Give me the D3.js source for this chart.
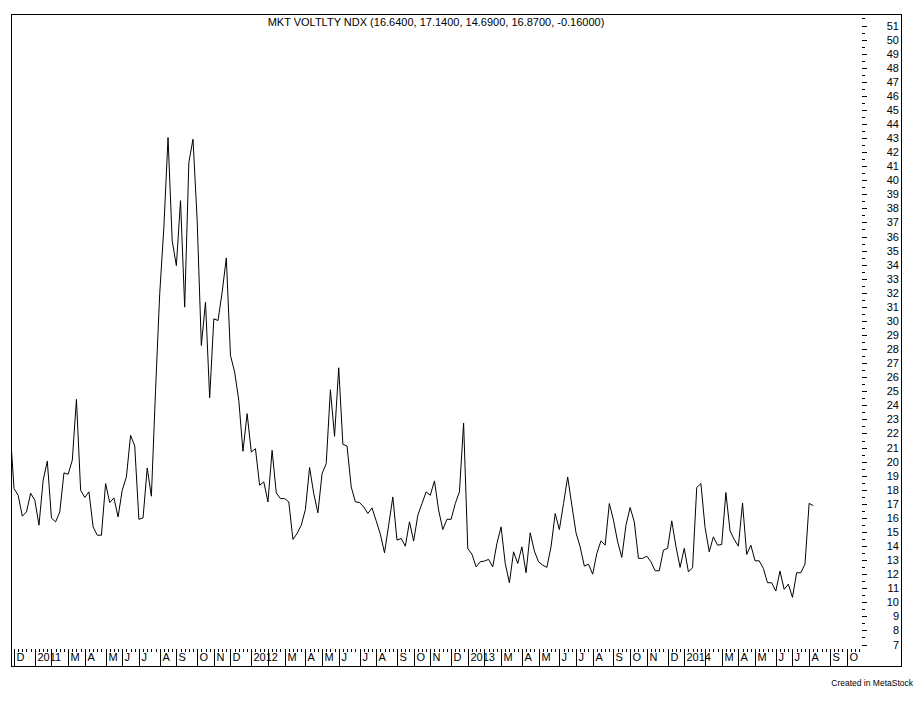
<!DOCTYPE html>
<html lang="en">
<head>
<meta charset="UTF-8">
<title>MKT VOLTLTY NDX</title>
<script src="https://cdn.jsdelivr.net/npm/d3@7"></script>
<style>
  html, body { margin: 0; padding: 0; background: #fff; }
  svg { display: block; font-family: "Liberation Sans", Arial, sans-serif; }
</style>
</head>
<body>
<div id="chart"></div>
<script>
// weekly closes, first week ending 26 Nov 2010
const startDate = new Date(2010, 10, 26);
const closes = [
  22.6, 18.09, 17.6, 16.12, 16.43, 17.75, 17.26, 15.48, 18.67, 20.04,
  15.98, 15.72, 16.43, 19.2, 19.1, 20.1, 24.42, 17.97, 17.45, 17.85,
  15.36, 14.77, 14.77, 18.44, 17.09, 17.42, 16.07, 17.97, 18.91, 21.87,
  21.11, 15.9, 16.0, 19.55, 17.54, 25.06, 31.93, 36.65, 43.04, 35.7,
  33.93, 38.55, 30.98, 41.27, 42.92, 37.13, 28.26, 31.33, 24.54, 30.15,
  30.03, 32.04, 34.48, 27.55, 26.36, 24.35, 20.73, 23.41, 20.68, 20.92,
  18.32, 18.56, 17.14, 20.8, 17.78, 17.37, 17.37, 17.14, 14.47, 14.89,
  15.48, 16.6, 19.58, 17.73, 16.36, 19.15, 19.86, 25.11, 21.8, 26.67,
  21.23, 21.11, 18.2, 17.14, 17.09, 16.78, 16.31, 16.71, 15.79, 14.84,
  13.52, 15.48, 17.49, 14.42, 14.54, 13.99, 15.72, 14.35, 16.19, 17.02,
  17.85, 17.61, 18.63, 16.55, 15.17, 15.9, 15.9, 17.02, 17.85, 22.74,
  13.83, 13.42, 12.52, 12.88, 12.93, 13.05, 12.52, 14.18, 15.36, 12.76,
  11.39, 13.59, 12.76, 13.94, 12.1, 14.94, 13.64, 12.88, 12.64, 12.48,
  13.94, 16.31, 15.17, 17.02, 18.91, 16.9, 14.94, 13.94, 12.57, 12.71,
  12.0, 13.47, 14.37, 14.06, 17.02, 15.84, 14.3, 13.19, 15.48, 16.74,
  15.72, 13.12, 13.12, 13.28, 12.88, 12.24, 12.24, 13.71, 13.83, 15.79,
  13.99, 12.48, 13.83, 12.17, 12.45, 18.16, 18.44, 15.32, 13.59, 14.65,
  14.06, 14.11, 17.8, 15.08, 14.47, 13.99, 17.06, 13.4, 14.06, 12.95,
  12.95, 12.41, 11.39, 11.39, 10.8, 12.22, 10.92, 11.29, 10.35, 12.1,
  12.1, 12.71, 17.03, 16.87
];
const weekCount = 205;   // weeks shown on the axis, incl. empty ones at the right
const monthLetters = ["", "", "M", "A", "M", "J", "J", "A", "S", "O", "N", "D"];
const yTicks = d3.range(7, 52);
const yMinorTicks = d3.range(7.5, 52, 1);
const title = "MKT VOLTLTY NDX (16.6400, 17.1400, 14.6900, 16.8700, -0.16000)";

var width = 921, height = 701,
    frame = { left: 11.5, top: 14.5, right: 901.5, bottom: 666.5 };

var svg = d3.select("#chart").append("svg")
    .attr("width", width)
    .attr("height", height);

svg.append("rect").attr("width", width).attr("height", height).attr("fill", "#fff");

var x = d3.scaleLinear().domain([0, 204]).range([9.84, 9.84 + 4.163 * 204]),
    y = d3.scaleLinear().domain([7, 51]).range([644.5, 25.5]);

var weeks = d3.range(weekCount).map(i => d3.timeDay.offset(startDate, 7 * i));

svg.append("clipPath").attr("id", "plot")
  .append("rect")
    .attr("x", frame.left).attr("y", frame.top)
    .attr("width", frame.right - frame.left).attr("height", frame.bottom - frame.top);

// frame
svg.append("rect")
    .attr("x", frame.left).attr("y", frame.top)
    .attr("width", frame.right - frame.left).attr("height", frame.bottom - frame.top)
    .attr("fill", "none").attr("stroke", "#000").attr("stroke-width", 1);

// title
svg.append("text")
    .attr("x", 436).attr("y", 26)
    .attr("text-anchor", "middle")
    .attr("font-size", 11)
    .text(title);

// price line
var line = d3.line()
    .x((d, i) => x(i))
    .y(d => y(d));

svg.append("path")
    .datum(closes)
    .attr("clip-path", "url(#plot)")
    .attr("fill", "none")
    .attr("stroke", "#000")
    .attr("stroke-width", 1)
    .attr("d", line);

// right axis
var ya = svg.append("g");
ya.selectAll("line.major").data(yTicks).enter().append("line")
    .attr("class", "major")
    .attr("x1", 862).attr("x2", 867)
    .attr("y1", d => Math.round(y(d)) + 0.5).attr("y2", d => Math.round(y(d)) + 0.5)
    .attr("stroke", "#000");
ya.selectAll("line.minor").data(yMinorTicks).enter().append("line")
    .attr("class", "minor")
    .attr("x1", 862).attr("x2", 865)
    .attr("y1", d => Math.round(y(d)) + 0.5).attr("y2", d => Math.round(y(d)) + 0.5)
    .attr("stroke", "#000");
ya.selectAll("text").data(yTicks).enter().append("text")
    .attr("x", 899).attr("y", d => y(d) + 4)
    .attr("text-anchor", "end")
    .attr("font-size", 11)
    .text(d => d);

// bottom time axis: a dot per week, a bar at the first week of each month
var xa = svg.append("g").attr("clip-path", "url(#plot)");
weeks.forEach((d, i) => {
  var px = Math.round(x(i)) + 0.5;
  var newMonth = i > 0 && d.getMonth() !== weeks[i - 1].getMonth();
  if (newMonth) {
    xa.append("line")
        .attr("x1", px).attr("x2", px).attr("y1", 649).attr("y2", 666)
        .attr("stroke", "#000");
    var m = d.getMonth();
    var label = m === 0 ? String(d.getFullYear()) : monthLetters[m];
    if (label)
      xa.append("text")
          .attr("x", px + 2).attr("y", 661)
          .attr("font-size", 11)
          .text(label);
  } else {
    xa.append("line")
        .attr("x1", px).attr("x2", px).attr("y1", 649).attr("y2", 652)
        .attr("stroke", "#000");
  }
});

svg.append("text")
    .attr("x", 913).attr("y", 686)
    .attr("text-anchor", "end")
    .attr("font-size", 8.5)
    .text("Created in MetaStock");
</script>
</body>
</html>
